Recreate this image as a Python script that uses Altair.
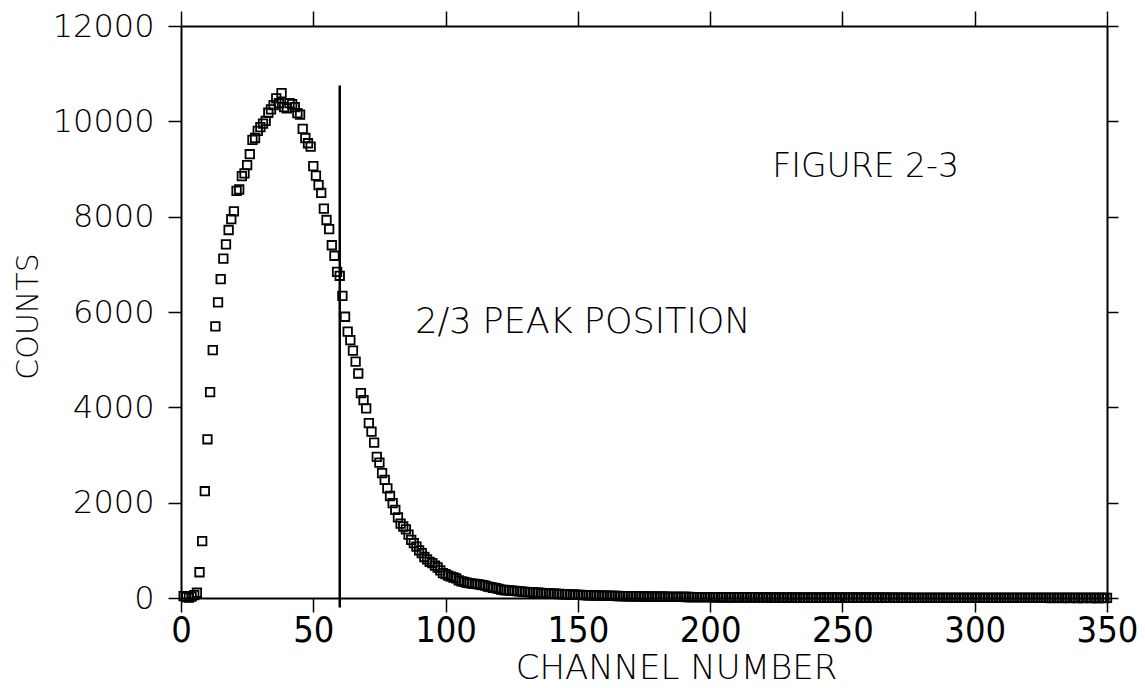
import altair as alt
import pandas as pd

# ---- data ----
channels = list(range(1, 351))
counts = [
    40, 20, 10, 30, 60, 110, 540, 1195, 2240, 3330,
    4320, 5200, 5700, 6200, 6690, 7120, 7420, 7720, 7950, 8110,
    8540, 8570, 8850, 8910, 9080, 9310, 9610, 9650, 9800, 9880,
    9950, 10010, 10180, 10250, 10340, 10480, 10380, 10590, 10300, 10270,
    10380, 10360, 10300, 10170, 10140, 9840, 9650, 9540, 9470, 9060,
    8860, 8660, 8500, 8170, 7930, 7740, 7400, 7180, 6840, 6760,
    6340, 5900, 5590, 5410, 5190, 4960, 4710, 4300, 4150, 3980,
    3670, 3490, 3260, 2960, 2840, 2620, 2480, 2300, 2140, 1990,
    1850, 1690, 1560, 1500, 1440, 1330, 1220, 1150, 1080, 1000,
    940, 860, 810, 760, 730, 680, 640, 580, 520, 500,
    470, 450, 430, 410, 370, 350, 340, 320, 310, 300,
    295, 290, 280, 270, 260, 240, 230, 215, 205, 190,
    175, 168, 160, 158, 153, 150, 145, 140, 132, 128,
    124, 120, 118, 112, 110, 105, 102, 98, 95, 92,
    90, 86, 84, 80, 78, 76, 72, 70, 68, 66,
    64, 62, 60, 58, 57, 55, 53, 52, 50, 48,
    47, 46, 44, 43, 42, 40, 39, 38, 37, 36,
    35, 34, 33, 32, 32, 31, 30, 29, 28, 28,
    27, 26, 26, 25, 24, 24, 23, 23, 22, 22,
    21, 21, 20, 20, 19, 19, 18, 18, 18, 17,
    17, 16, 16, 16, 15, 15, 15, 14, 14, 14,
    13, 14, 13, 12, 13, 12, 12, 11, 12, 11,
    11, 10, 11, 10, 10, 11, 9, 10, 9, 10,
    9, 9, 8, 9, 8, 9, 8, 8, 7, 8,
    8, 7, 8, 7, 7, 6, 7, 7, 6, 7,
    6, 6, 7, 6, 5, 6, 6, 5, 6, 5,
    5, 6, 5, 5, 4, 5, 5, 4, 5, 4,
    5, 4, 4, 5, 4, 4, 3, 4, 4, 3,
    4, 3, 4, 3, 3, 4, 3, 3, 2, 3,
    3, 2, 3, 3, 2, 3, 2, 2, 3, 2,
    2, 3, 2, 2, 2, 1, 2, 2, 1, 2,
    2, 1, 2, 1, 2, 1, 1, 2, 1, 1,
    2, 1, 1, 1, 2, 1, 1, 1, 0, 1,
    1, 1, 0, 1, 1, 0, 1, 1, 0, 1,
    0, 1, 1, 0, 1, 0, 0, 1, 0, 1,
]

x_ticks = [0, 50, 100, 150, 200, 250, 300, 350]
y_ticks = [0, 2000, 4000, 6000, 8000, 10000, 12000]

marker_channel = [60]
marker_low = [-200]
marker_high = [10750]

note_text = ["2/3 PEAK POSITION", "FIGURE 2-3"]
note_x = [88.5, 223.5]
note_y = [5560, 8830]
note_size = [35, 33]

# ---- tables ----
df = pd.DataFrame({"channel": channels, "counts": counts})
df_rule = pd.DataFrame({"x": marker_channel, "y": marker_low, "y2": marker_high})
df_notes = pd.DataFrame({"x": note_x, "y": note_y, "text": note_text, "size": note_size})

FONT = "DejaVu Sans"
NARROW = "Liberation Sans Narrow, DejaVu Sans Condensed, sans-serif"

xscale = alt.Scale(domain=[0, 350], nice=False, zero=False)
yscale = alt.Scale(domain=[0, 12000], nice=False)

points = alt.Chart(df).mark_point(
    shape="square", filled=False, size=72, color="black", strokeWidth=1.8, opacity=1
).encode(
    x=alt.X("channel:Q", scale=xscale,
            axis=alt.Axis(orient="bottom", values=x_ticks, tickSize=14, labelPadding=1,
                          labelFont=NARROW, labelFontSize=36, labelFontWeight=300,
                          labelFlush=False, labelOverlap=False, format="d",
                          title="CHANNEL NUMBER", titleFont=FONT, titleFontSize=34,
                          titleFontWeight=300, titleX=495, titleY=80,
                          titleAlign="center", titleBaseline="alphabetic")),
    y=alt.Y("counts:Q", scale=yscale,
            axis=alt.Axis(orient="left", values=y_ticks, tickSize=13, labelPadding=14,
                          labelFont=FONT, labelFontSize=32, labelFontWeight=300,
                          labelFlush=False, labelOverlap=False, format="d",
                          title="COUNTS", titleFont=FONT, titleFontSize=30,
                          titleFontWeight=300, titleAngle=270, titleX=-153, titleY=290,
                          titleAlign="center", titleBaseline="middle")),
)

rule = alt.Chart(df_rule).mark_rule(color="black", strokeWidth=2.5).encode(
    x=alt.X("x:Q", scale=xscale,
            axis=alt.Axis(orient="top", values=x_ticks, tickSize=15, labels=False, title=None)),
    y=alt.Y("y:Q", scale=yscale,
            axis=alt.Axis(orient="right", values=y_ticks, tickSize=11, labels=False, title=None)),
    y2="y2:Q",
)

notes = alt.Chart(df_notes).mark_text(
    align="left", baseline="alphabetic", font=FONT, fontWeight=300, color="black"
).encode(
    x=alt.X("x:Q", scale=xscale, axis=None),
    y=alt.Y("y:Q", scale=yscale, axis=None),
    text="text:N",
    size=alt.Size("size:Q", scale=None, legend=None),
)

chart = alt.layer(points, rule, notes).resolve_axis(
    x="independent", y="independent"
).properties(
    width=926, height=572,
    autosize=alt.AutoSizeParams(type="none"),
    padding={"left": 181, "top": 26, "right": 38, "bottom": 90},
    background="white",
).configure_view(stroke=None).configure_axis(
    domainColor="black", domainWidth=2, tickColor="black", tickWidth=1.5,
    grid=False, labelColor="black", titleColor="black",
)

chart.save("out.html", embed_options={"renderer": "svg", "actions": False})
